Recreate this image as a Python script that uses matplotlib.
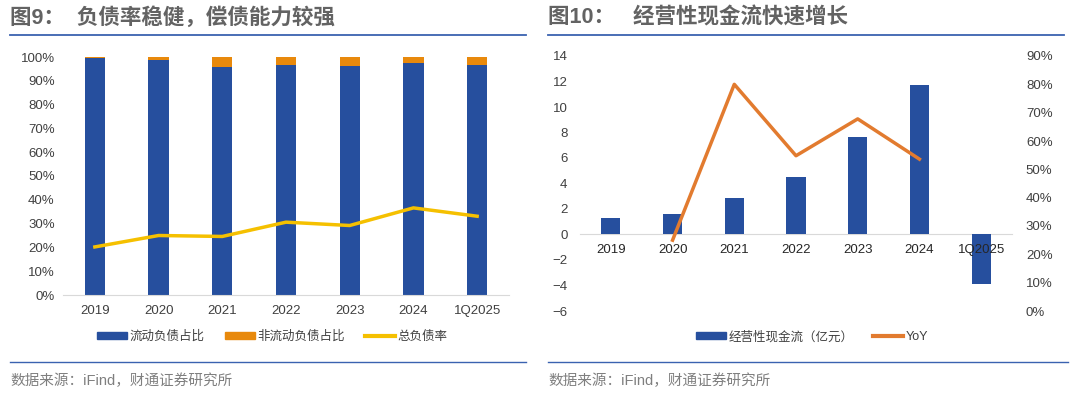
import matplotlib.pyplot as plt
from matplotlib.patches import Patch
from matplotlib.lines import Line2D
from matplotlib.ticker import PercentFormatter, MultipleLocator

plt.rcParams['font.family'] = ['Liberation Sans', 'Noto Sans CJK SC', 'DejaVu Sans']
plt.rcParams['axes.unicode_minus'] = True

# 图9 数据
cats = ["2019", "2020", "2021", "2022", "2023", "2024", "1Q2025"]
cur_ratio = [99.7, 98.8, 95.6, 96.7, 96.2, 97.3, 96.6]        # 流动负债占比 %
noncur_ratio = [100 - v for v in cur_ratio]                    # 非流动负债占比 %
debt_ratio = [20.2, 25.0, 24.6, 30.6, 29.2, 36.6, 33.1]        # 总负债率 %

# 图10 数据
ocf = [1.26, 1.6, 2.9, 4.53, 7.62, 11.73, -3.85]               # 经营性现金流（亿元）
yoy_cats = ["2020", "2021", "2022", "2023", "2024"]
yoy = [25.0, 80.0, 54.8, 67.8, 53.6]                           # YoY %

BLUE = "#264F9E"
ORANGE = "#E8890C"
YELLOW = "#F5C000"
LINE_OR = "#E27B2F"
GRID = "#D9D9D9"
TXT = "#404040"
RULE = "#3A62B0"

W, H = 1080, 395
fig = plt.figure(figsize=(W / 100, H / 100), dpi=100)


def box(x0, y0, x1, y1):
    return [x0 / W, 1 - y1 / H, (x1 - x0) / W, (y1 - y0) / H]


def hline(x0, x1, y, lw=1.3):
    fig.add_artist(Line2D([x0 / W, x1 / W], [1 - y / H, 1 - y / H],
                          color=RULE, lw=lw, transform=fig.transFigure))


# 标题与分隔线
title_kw = dict(fontsize=15.5, fontweight="bold", color="#636363",
                va="center", ha="left")
fig.text(10 / W, 1 - 18 / H, "图9：  负债率稳健，偿债能力较强", **title_kw)
fig.text(548 / W, 1 - 18 / H, "图10：   经营性现金流快速增长", **title_kw)
hline(10, 526, 34.5)
hline(548, 1064, 34.5)
hline(10, 526, 362, lw=1.0)
hline(548, 1068, 362, lw=1.0)
fig.text(10 / W, 1 - 381 / H, "数据来源：iFind，财通证券研究所", fontsize=10.5,
         color="#7F7F7F", va="center", ha="left")
fig.text(548 / W, 1 - 381 / H, "数据来源：iFind，财通证券研究所", fontsize=10.5,
         color="#7F7F7F", va="center", ha="left")

# ---- 图9 ----
ax1 = fig.add_axes(box(63, 57, 509, 295))
x = range(len(cats))
ax1.bar(x, cur_ratio, width=0.32, color=BLUE, zorder=2)
ax1.bar(x, noncur_ratio, bottom=cur_ratio, width=0.32, color=ORANGE, zorder=2)
ax1.plot(x, debt_ratio, color=YELLOW, lw=2.5, zorder=3)
ax1.set_xlim(-0.5, len(cats) - 0.5)
ax1.set_ylim(0, 100)
ax1.yaxis.set_major_locator(MultipleLocator(10))
ax1.yaxis.set_major_formatter(PercentFormatter(decimals=0))
ax1.set_xticks(list(x))
ax1.set_xticklabels(cats)
for s in ["top", "right", "left"]:
    ax1.spines[s].set_visible(False)
ax1.spines["bottom"].set_color(GRID)
ax1.tick_params(length=0, labelsize=9.5, colors=TXT, pad=7)
ax1.tick_params(axis="y", pad=6)

h1 = [Patch(color=BLUE), Patch(color=ORANGE), Line2D([], [], color=YELLOW, lw=3)]
fig.legend(h1, ["流动负债占比", "非流动负债占比", "总负债率"], ncol=3,
           loc="center", bbox_to_anchor=(272 / W, 1 - 337 / H), frameon=False,
           fontsize=9, handlelength=2.4, handleheight=0.5, handletextpad=0.2,
           columnspacing=1.6, labelcolor=TXT)

# ---- 图10 ----
ax2 = fig.add_axes(box(580, 56, 1012, 311))
xx = range(len(cats))
ax2.bar(xx, ocf, width=0.31, color=BLUE, zorder=1)
ax2.set_xlim(-0.5, len(cats) - 0.5)
ax2.set_ylim(-6, 14)
ax2.yaxis.set_major_locator(MultipleLocator(2))
ax2.set_xticks(list(xx))
ax2.set_xticklabels(cats)
for s in ["top", "right", "left"]:
    ax2.spines[s].set_visible(False)
ax2.spines["bottom"].set_position(("data", 0))
ax2.spines["bottom"].set_color(GRID)
ax2.spines["bottom"].set_zorder(0.5)
ax2.tick_params(length=0, labelsize=9.5, colors=TXT)
ax2.tick_params(axis="x", pad=7, labelcolor="#262626")
ax2.tick_params(axis="y", pad=9)
ax2.xaxis.set_zorder(5)

ax3 = ax2.twinx()
ax3.plot([cats.index(c) for c in yoy_cats], yoy, color=LINE_OR, lw=2.5, zorder=3)
ax3.set_ylim(0, 90)
ax3.yaxis.set_major_locator(MultipleLocator(10))
ax3.yaxis.set_major_formatter(PercentFormatter(decimals=0))
for s in ax3.spines.values():
    s.set_visible(False)
ax3.tick_params(length=0, labelsize=9.5, colors=TXT, pad=10)

h2 = [Patch(color=BLUE), Line2D([], [], color=LINE_OR, lw=3)]
fig.legend(h2, ["经营性现金流（亿元）", "YoY"], ncol=2,
           loc="center", bbox_to_anchor=(812 / W, 1 - 337 / H), frameon=False,
           fontsize=9, handlelength=2.4, handleheight=0.5, handletextpad=0.2,
           columnspacing=1.6, labelcolor=TXT)

fig.savefig("out.png", dpi=100)
